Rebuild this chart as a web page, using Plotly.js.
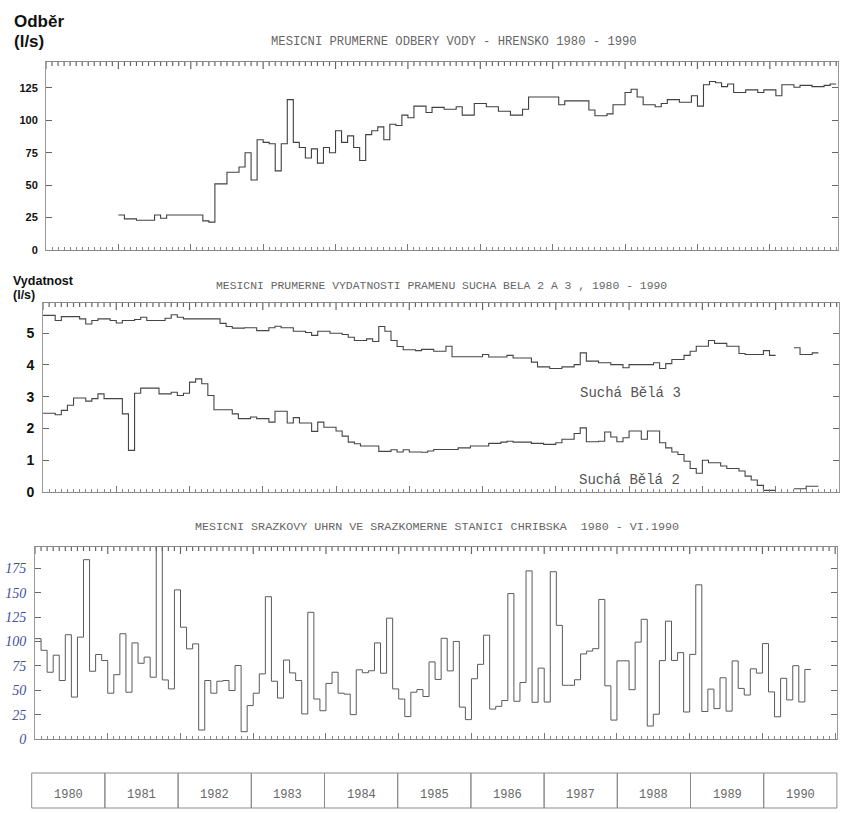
<!DOCTYPE html>
<html><head><meta charset="utf-8">
<script src="https://cdn.plot.ly/plotly-3.0.1.min.js"></script>
<style>html,body{margin:0;padding:0;background:#fff}</style>
</head><body><div id="chart" style="width:843px;height:813px"></div>
<script>
// Monthly values, index 0 = January 1980
const odber = [
 null,null,null,null,null,null,null,null,null,null,null,null,
 27,24,24,23,23,23,27,24.5,27,27,27,27,
 27,27,22.5,21.5,51,51,60,60,64,75,54,85,
 83,82,61,82,116,83,79,71,78,67,79,75,
 92,83,88,79,69,89,92,95,85,97,96,104,
 102,111,111,106,110,110,108.5,108.5,110.5,104,104,113,
 113,110.5,110.5,107,107,104,104,108.5,118,118,118,118,
 118,112,115,115,115,115,108,103.5,103.5,105,112,112,
 121.5,124,118,112,112,110.5,113,116,116,114,114,119,
 111,127.5,130,129,126,128,121.5,121.5,123.5,123.5,121.5,123.5,
 123.5,119,127.5,127.5,125.5,127,127,126,126,127,128
];
const suchaBela3 = [
 5.56,5.56,5.40,5.52,5.52,5.52,5.45,5.29,5.40,5.45,5.45,5.40,
 5.32,5.40,5.40,5.43,5.50,5.40,5.40,5.40,5.47,5.58,5.50,5.45,
 5.45,5.45,5.45,5.45,5.45,5.31,5.21,5.16,5.16,5.17,5.17,5.08,
 5.08,5.17,5.22,5.17,5.17,5.06,5.06,5.02,4.93,5.06,5.06,5.00,
 5.00,4.96,4.87,4.77,4.77,4.82,4.74,5.21,5.06,4.77,4.58,4.48,
 4.48,4.45,4.49,4.49,4.43,4.43,4.59,4.26,4.26,4.26,4.26,4.26,
 4.33,4.25,4.25,4.25,4.30,4.22,4.22,4.22,4.09,3.94,3.94,3.89,
 3.89,3.94,3.94,4.01,4.38,4.12,4.12,4.07,4.07,4.01,4.01,3.91,
 4.01,4.01,4.01,4.01,4.07,3.89,4.04,4.17,4.17,4.30,4.43,4.59,
 4.59,4.77,4.68,4.68,4.59,4.59,4.36,4.33,4.33,4.33,4.45,4.30,
 null,null,null,4.54,4.33,4.33,4.38
];
const suchaBela2 = [
 2.48,2.48,2.43,2.57,2.73,2.96,2.96,2.86,2.94,3.09,2.94,2.94,
 2.94,2.46,1.31,3.11,3.27,3.27,3.27,3.09,3.09,3.14,3.04,3.11,
 3.46,3.56,3.41,3.04,2.59,2.59,2.59,2.46,2.31,2.31,2.36,2.31,
 2.31,2.20,2.54,2.54,2.17,2.34,2.17,2.17,1.91,2.20,2.04,2.04,
 1.92,1.76,1.57,1.52,1.45,1.45,1.45,1.28,1.28,1.33,1.26,1.33,
 1.26,1.26,1.25,1.29,1.34,1.34,1.34,1.34,1.39,1.39,1.45,1.45,
 1.45,1.53,1.53,1.57,1.60,1.57,1.57,1.57,1.53,1.53,1.50,1.50,
 1.55,1.66,1.66,1.84,2.02,1.58,1.58,1.60,1.89,1.73,1.58,1.71,
 1.92,1.92,1.66,1.92,1.92,1.55,1.39,1.26,1.18,0.97,0.74,0.59,
 1.00,0.92,0.92,0.82,0.74,0.74,0.66,0.50,0.38,0.21,0.05,0.05,
 null,null,null,0.10,0.10,0.18,0.18
];
const srazky = [
 103,91,68.5,86,60,107,43,104.5,184,69.5,86.7,80.5,
 47,66,108,48,98.6,77.7,84,63.4,205,60.6,51.4,153,
 114.7,92.5,97.6,9.2,60,47,59.3,60,49.7,75.4,7.5,34.3,
 47,66.8,146,59.3,42,81,67.8,60,25.7,130,41,29,
 57,68.5,47,46,25,71,68,70,98.6,67.5,124,51.4,
 41,23,48,50.7,43.6,79.1,61.1,103.3,69.9,100.1,32.7,19.9,
 61.8,76.6,106.5,30.7,33.5,39.5,149.2,38.7,58,172.5,37.7,72.7,
 37.9,171.6,116.6,55.1,55.1,60.8,87.3,90.2,92.7,143.2,54.6,19.4,
 80.2,80.2,50.6,99.4,122.8,13.3,25.4,80.4,120.9,80.6,88.6,27.7,
 86.8,158.2,28.2,51.2,31.2,62.8,28.6,80.1,51.9,45.1,72,67.6,
 97.9,48.3,22.8,62.3,40.1,75.2,38,71.4
];
const years = ['1980','1981','1982','1983','1984','1985','1986','1987','1988','1989','1990'];
const yTicks1 = [0,25,50,75,100,125];
const yTicks2 = [0,1,2,3,4,5];
const yTicks3 = [0,25,50,75,100,125,150,175];
const yTickText3 = ['0','25','50','75','100','125','150','175'];
const titles = [
 'MESICNI PRUMERNE ODBERY VODY - HRENSKO 1980 - 1990',
 'MESICNI PRUMERNE VYDATNOSTI PRAMENU SUCHA BELA 2 A 3 , 1980 - 1990',
 'MESICNI SRAZKOVY UHRN VE SRAZKOMERNE STANICI CHRIBSKA  1980 - VI.1990'
];

const W = 843, H = 813;
const px = v => v / W, py = v => 1 - v / H;

function steps(vals) {
  const x = [], y = [];
  for (let i = 0; i < vals.length; i++) {
    const v = vals[i];
    x.push(i); y.push(v);
    if (v !== null && (i === vals.length - 1 || vals[i + 1] === null)) { x.push(i + 1); y.push(v); }
  }
  return {x, y};
}
function stepTrace(vals, xa, ya, color, width) {
  const s = steps(vals);
  return {x: s.x, y: s.y, xaxis: xa, yaxis: ya, type: 'scatter', mode: 'lines',
    line: {shape: 'hv', color: color, width: width}, connectgaps: false, hoverinfo: 'skip'};
}
// monthly tick comb hanging from the top frame of a panel (frame decoration)
function topComb(xRange, yRange, heightPx, xa, ya) {
  const x = [], y = [];
  const top = yRange[1];
  for (let m = 0; m <= Math.floor(xRange[1]); m++) {
    const len = (m % 12 === 0 ? 7 : 4) / heightPx * (yRange[1] - yRange[0]);
    x.push(m, m, null); y.push(top, top - len, null);
  }
  return {x, y, xaxis: xa, yaxis: ya, type: 'scatter', mode: 'lines', connectgaps: false,
    line: {color: '#666', width: 1.2}, hoverinfo: 'skip', showlegend: false};
}

const yearTicks = [];
for (let m = 0; m <= 132; m += 12) yearTicks.push(m);

function xAxis(dom, rng, anchor) {
  return {domain: [px(dom[0]), px(dom[1])], range: rng, anchor: anchor,
    showline: true, mirror: true, linecolor: '#8a8a8a', linewidth: 1,
    ticks: 'inside', tickmode: 'array', tickvals: yearTicks, ticklen: 6, tickcolor: '#777', tickwidth: 1,
    minor: {tickmode: 'linear', tick0: 0, dtick: 1, ticks: 'inside', ticklen: 3, tickcolor: '#888', tickwidth: 1, showgrid: false},
    showticklabels: false, showgrid: false, zeroline: false, fixedrange: true};
}
function yAxis(dom, rng, anchor, vals, text, font) {
  return {domain: [py(dom[1]), py(dom[0])], range: rng, anchor: anchor,
    showline: true, mirror: 'ticks', linecolor: '#9a9a9a', linewidth: 1,
    ticks: 'inside', ticklen: 6, tickcolor: '#666', tickwidth: 1,
    tickmode: 'array', tickvals: vals, ticktext: text,
    tickfont: font, ticklabelstandoff: 5,
    showgrid: false, zeroline: false, fixedrange: true};
}

const boldFont = s => ({family: 'Liberation Sans, Arial, sans-serif', size: s, weight: 'bold', color: '#111'});

const r1 = [0, 131.3], r2 = [0, 130.3], r3 = [0, 132.3];
const yr1 = [0, 145], yr2 = [0, 5.95], yr3 = [0, 197];
const dx1 = [46, 838], dx2 = [43, 838.5], dx3 = [35, 837];
const dy1 = [62, 250], dy2 = [303, 492], dy3 = [547, 739];

const data = [
  stepTrace(odber, 'x', 'y', '#404040', 1.1),
  stepTrace(suchaBela3, 'x2', 'y2', '#454545', 1.1),
  stepTrace(suchaBela2, 'x2', 'y2', '#454545', 1.1),
  stepTrace(srazky, 'x3', 'y3', '#5a5a5a', 1),
  topComb(r1, yr1, dy1[1] - dy1[0], 'x', 'y'),
  topComb(r2, yr2, dy2[1] - dy2[0], 'x2', 'y2'),
  topComb(r3, yr3, dy3[1] - dy3[0], 'x3', 'y3')
];

const mono = s => ({family: 'Liberation Mono, DejaVu Sans Mono, monospace', size: s, color: '#666'});
const annotations = [
  {text: 'Odběr', x: px(12), y: py(22), xref: 'paper', yref: 'paper', xanchor: 'left', yanchor: 'middle', showarrow: false, font: boldFont(17)},
  {text: '(l/s)', x: px(12), y: py(42), xref: 'paper', yref: 'paper', xanchor: 'left', yanchor: 'middle', showarrow: false, font: boldFont(17)},
  {text: 'Vydatnost', x: px(11), y: py(281), xref: 'paper', yref: 'paper', xanchor: 'left', yanchor: 'middle', showarrow: false, font: boldFont(12.5)},
  {text: '(l/s)', x: px(11), y: py(295), xref: 'paper', yref: 'paper', xanchor: 'left', yanchor: 'middle', showarrow: false, font: boldFont(12.5)},
  {text: titles[0], x: px(454), y: py(42), xref: 'paper', yref: 'paper', xanchor: 'center', yanchor: 'middle', showarrow: false, font: mono(12.2)},
  {text: titles[1], x: px(441), y: py(286), xref: 'paper', yref: 'paper', xanchor: 'center', yanchor: 'middle', showarrow: false, font: mono(11.4)},
  {text: titles[2], x: px(437), y: py(527), xref: 'paper', yref: 'paper', xanchor: 'center', yanchor: 'middle', showarrow: false, font: mono(11.7)},
  {text: 'Suchá Bělá 3', x: px(630), y: py(393), xref: 'paper', yref: 'paper', xanchor: 'center', yanchor: 'middle', showarrow: false, font: {family: 'Liberation Mono, monospace', size: 14, color: '#555'}},
  {text: 'Suchá Bělá 2', x: px(629), y: py(480), xref: 'paper', yref: 'paper', xanchor: 'center', yanchor: 'middle', showarrow: false, font: {family: 'Liberation Mono, monospace', size: 14, color: '#555'}}
];

const shapes = [];
const boxL = 31.7, boxW = 73.2;
years.forEach((yr, k) => {
  shapes.push({type: 'rect', xref: 'paper', yref: 'paper', x0: px(boxL + boxW * k), x1: px(boxL + boxW * (k + 1)),
    y0: py(808), y1: py(773), line: {color: '#8a8a8a', width: 1}});
  annotations.push({text: yr, x: px(boxL + boxW * (k + 0.5)), y: py(795), xref: 'paper', yref: 'paper',
    xanchor: 'center', yanchor: 'middle', showarrow: false, font: {family: 'Liberation Mono, monospace', size: 12, color: '#666'}});
});

const layout = {
  width: W, height: H, margin: {l: 0, r: 0, t: 0, b: 0}, paper_bgcolor: '#fff', plot_bgcolor: 'rgba(0,0,0,0)',
  showlegend: false,
  xaxis: xAxis(dx1, r1, 'y'),
  yaxis: yAxis(dy1, yr1, 'x', yTicks1, yTicks1.map(String), boldFont(11)),
  xaxis2: xAxis(dx2, r2, 'y2'),
  yaxis2: yAxis(dy2, yr2, 'x2', yTicks2, yTicks2.map(String), boldFont(14)),
  xaxis3: xAxis(dx3, r3, 'y3'),
  yaxis3: yAxis(dy3, yr3, 'x3', yTicks3, yTickText3,
    {family: 'Liberation Serif, DejaVu Serif, serif', size: 14, style: 'italic', color: '#3f4f9f'}),
  annotations: annotations,
  shapes: shapes
};
Plotly.newPlot('chart', data, layout, {displayModeBar: false, staticPlot: true});
</script></body></html>
